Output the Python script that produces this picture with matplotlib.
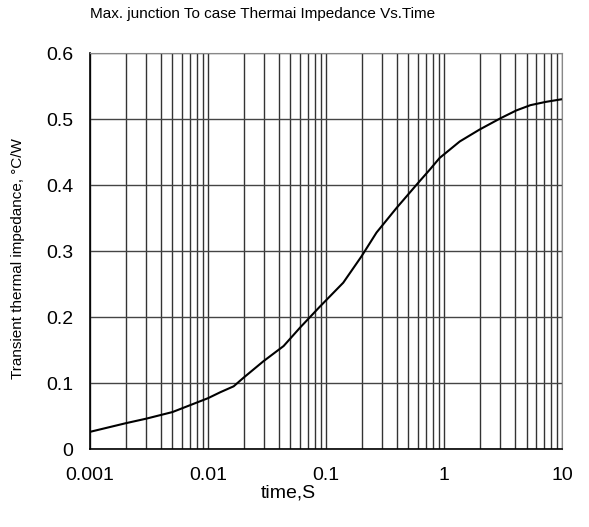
import numpy as np
import matplotlib
matplotlib.use('agg')
import matplotlib.pyplot as plt
from matplotlib import font_manager
from matplotlib.ticker import LogLocator, FixedLocator, NullFormatter

# curve
time_s = [0.001, 0.002, 0.003, 0.005, 0.01, 0.0127, 0.0165, 0.02, 0.0295, 0.0437,
          0.0603, 0.089, 0.14, 0.2, 0.268, 0.395, 0.602, 0.755, 0.918, 1.36, 2.0,
          3.0, 4.1, 5.4, 7.3, 10.0]
zth = [0.026, 0.039, 0.046, 0.056, 0.077, 0.086, 0.095, 0.108, 0.133, 0.156,
       0.184, 0.216, 0.252, 0.292, 0.328, 0.365, 0.403, 0.423, 0.441, 0.466, 0.484,
       0.501, 0.513, 0.521, 0.526, 0.530]
x_ticks = [0.001, 0.01, 0.1, 1, 10]
x_ticklabels = ['0.001', '0.01', '0.1', '1', '10']
y_ticks = [0, 0.1, 0.2, 0.3, 0.4, 0.5, 0.6]
y_ticklabels = ['0', '0.1', '0.2', '0.3', '0.4', '0.5', '0.6']

names = {f.name for f in font_manager.fontManager.ttflist}
narrow = 'Liberation Sans Narrow' if 'Liberation Sans Narrow' in names else 'Liberation Sans'
plt.rcParams['font.family'] = ['Liberation Sans', 'DejaVu Sans']

fig = plt.figure(figsize=(5.89, 5.27), dpi=100)
ax = fig.add_axes([0.1528, 0.148, 0.8014, 0.7514])

ax.set_xscale('log')
ax.set_xlim(0.001, 10)
ax.set_ylim(0, 0.6)
ax.xaxis.set_major_locator(FixedLocator(x_ticks))
ax.set_xticklabels(x_ticklabels)
ax.xaxis.set_minor_locator(LogLocator(base=10, subs=np.arange(2, 10)))
ax.xaxis.set_minor_formatter(NullFormatter())
ax.set_yticks(y_ticks)
ax.set_yticklabels(y_ticklabels)

ax.grid(True, which='both', axis='x', color='#333333', linewidth=1)
ax.grid(True, which='major', axis='y', color='#444444', linewidth=1)
ax.tick_params(axis='both', which='both', length=0, labelsize=14, colors='black')
ax.tick_params(axis='x', pad=13)
ax.tick_params(axis='y', pad=12)

for side in ['top', 'right']:
    ax.spines[side].set_color('#888888')
for side in ['left', 'bottom']:
    ax.spines[side].set_color('black')
    ax.spines[side].set_linewidth(1.2)

ax.plot(time_s, zth, color='black', linewidth=1.5)

fig.text(0.445, 0.974, 'Max. junction To case Thermai Impedance Vs.Time',
         family=narrow, fontsize=11, ha='center', va='center')
fig.text(0.031, 0.51, 'Transient thermal impedance, °C/W', family=narrow,
         fontsize=11, rotation=90, ha='center', va='center')
fig.text(0.489, 0.064, 'time,S', fontsize=14, ha='center', va='center')

fig.savefig('out.png', dpi=100)
